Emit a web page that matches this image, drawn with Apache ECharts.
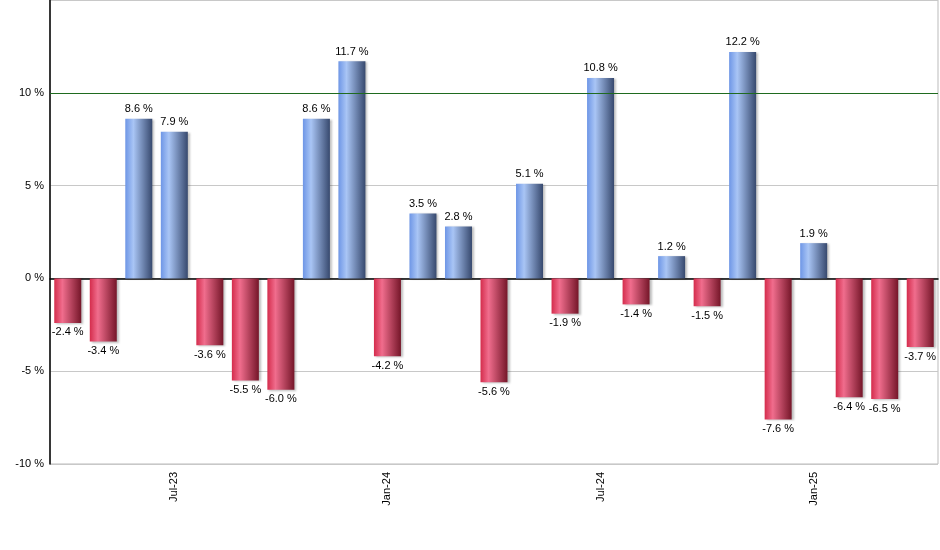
<!DOCTYPE html>
<html>
<head>
<meta charset="utf-8">
<script src="https://cdn.jsdelivr.net/npm/echarts@6/dist/echarts.min.js"></script>
<style>html,body{margin:0;padding:0;background:#fff}#chart{width:940px;height:550px}</style>
</head>
<body>
<div id="chart"></div>
<script>
const months = ['Apr-23','May-23','Jun-23','Jul-23','Aug-23','Sep-23','Oct-23','Nov-23','Dec-23',
  'Jan-24','Feb-24','Mar-24','Apr-24','May-24','Jun-24','Jul-24','Aug-24','Sep-24','Oct-24',
  'Nov-24','Dec-24','Jan-25','Feb-25','Mar-25','Apr-25']
const returns = [-2.4, -3.4, 8.6, 7.9, -3.6, -5.5, -6.0, 8.6, 11.7, -4.2, 3.5, 2.8, -5.6,
  5.1, -1.9, 10.8, -1.4, 1.2, -1.5, 12.2, -7.6, 1.9, -6.4, -6.5, -3.7]
const shownLabels = ['Jul-23', 'Jan-24', 'Jul-24', 'Jan-25']

function grad(c0, c1, c2) {
  return new echarts.graphic.LinearGradient(0, 0, 1, 0, [
    { offset: 0, color: c0 }, { offset: 0.3, color: c1 }, { offset: 1, color: c2 }
  ])
}
const blue = grad('#6e96e6', '#a9c5f5', '#37496e')
const red = grad('#d42c4c', '#f06d8d', '#751629')

const chart = echarts.init(document.getElementById('chart'))
const showIdx = (i) => shownLabels.includes(months[i])

chart.setOption({
  animation: false,
  textStyle: { fontFamily: 'Liberation Sans, Arial, sans-serif' },
  grid: { left: 50, right: 2, top: 0, bottom: 86, show: true, borderColor: '#bbb', borderWidth: 1 },
  xAxis: {
    type: 'category',
    data: months,
    axisLine: { lineStyle: { color: '#000', width: 1.5 } },
    axisTick: { alignWithLabel: true, interval: showIdx, length: 5, lineStyle: { color: '#000' } },
    axisLabel: { interval: showIdx, rotate: 90, color: '#000', fontSize: 11, margin: 8 }
  },
  yAxis: {
    type: 'value',
    min: -10, max: 15, interval: 5,
    axisLine: { show: true, lineStyle: { color: '#000', width: 1.5 } },
    axisTick: { show: false },
    axisLabel: {
      color: '#000', fontSize: 11, margin: 6,
      formatter: (v) => (v === 15 ? '' : v + ' %')
    },
    splitLine: { lineStyle: { color: '#c8c8c8' } }
  },
  series: [{
    type: 'bar',
    barWidth: 27,
    data: returns.map((v) => ({
      value: v,
      itemStyle: { color: v >= 0 ? blue : red },
      label: { position: v >= 0 ? 'top' : 'bottom' }
    })),
    label: {
      show: true, color: '#000', fontSize: 11, distance: 4,
      formatter: (p) => p.value.toFixed(1) + ' %'
    },
    itemStyle: { shadowColor: 'rgba(0,0,0,0.25)', shadowOffsetX: 2, shadowOffsetY: 1, shadowBlur: 2 },
    markLine: {
      silent: true, symbol: 'none', label: { show: false },
      lineStyle: { color: '#1f6b1f', type: 'solid', width: 1 },
      data: [{ yAxis: 10 }]
    }
  }]
})
</script>
</body>
</html>
